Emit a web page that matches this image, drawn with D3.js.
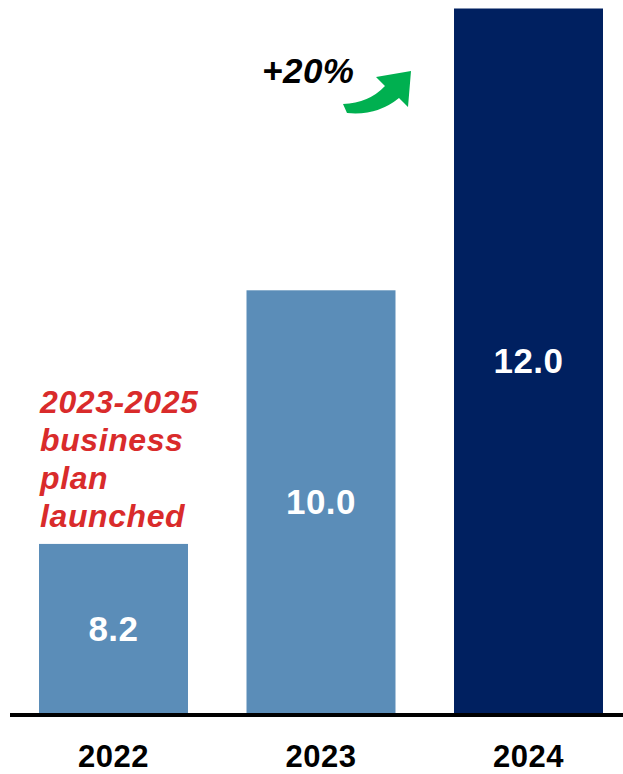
<!DOCTYPE html>
<html>
<head>
<meta charset="utf-8">
<script src="https://cdn.jsdelivr.net/npm/d3@7"></script>
<style>
  html, body { margin: 0; padding: 0; background: #fff; }
  svg { display: block; }
  text { font-family: "Liberation Sans", Arial, sans-serif; font-weight: bold; }
</style>
</head>
<body>
<svg id="chart" width="623" height="774"></svg>
<script>
// Yearly values shown as bars
const years = ["2022", "2023", "2024"];
const values = [8.2, 10.0, 12.0];
const barColors = ["#5B8DB8", "#5B8DB8", "#002060"];

// Annotations
const noteLines = ["2023-2025", "business", "plan", "launched"];
const growthLabel = "+20%";

const svg = d3.select("#chart");
const W = 623, H = 774;
const baseY = 713;

const x = d3.scaleBand()
  .domain(years)
  .range([39, 603])
  .paddingInner(0.282)
  .paddingOuter(0);

// value axis starts above zero so the bars emphasise growth
const y = d3.scaleLinear()
  .domain([7, 12])
  .range([baseY, 8.5]);

const data = years.map((yr, i) => ({ year: yr, value: values[i], color: barColors[i] }));

// bars
svg.selectAll("rect.bar")
  .data(data)
  .join("rect")
  .attr("class", "bar")
  .attr("x", d => x(d.year))
  .attr("y", d => y(d.value))
  .attr("width", x.bandwidth())
  .attr("height", d => baseY - y(d.value))
  .attr("fill", d => d.color);

// value labels centred inside each bar
svg.selectAll("text.val")
  .data(data)
  .join("text")
  .attr("class", "val")
  .attr("x", d => x(d.year) + x.bandwidth() / 2)
  .attr("y", d => (y(d.value) + baseY) / 2 + 3)
  .attr("text-anchor", "middle")
  .attr("dominant-baseline", "middle")
  .attr("fill", "#fff")
  .style("font-size", "35px")
  .style("letter-spacing", "0.5px")
  .text(d => d3.format(".1f")(d.value));

// baseline
svg.append("line")
  .attr("x1", 10).attr("x2", W)
  .attr("y1", baseY + 2).attr("y2", baseY + 2)
  .attr("stroke", "#000")
  .attr("stroke-width", 4);

// category axis labels
const xAxis = d3.axisBottom(x).tickSize(0).tickPadding(0);
const gx = svg.append("g")
  .attr("transform", `translate(0,${baseY})`)
  .call(xAxis);
gx.select(".domain").remove();
gx.selectAll("text")
  .attr("y", 54)
  .attr("dy", 0)
  .attr("fill", "#000")
  .style("font-size", "31px")
  .style("letter-spacing", "0.5px")
  .style("font-family", "'Liberation Sans', Arial, sans-serif")
  .style("font-weight", "bold");

// business plan note
svg.append("g")
  .selectAll("text")
  .data(noteLines)
  .join("text")
  .attr("x", 40)
  .attr("y", (d, i) => 413 + i * 38)
  .attr("fill", "#D92B2B")
  .style("font-size", "32px")
  .style("letter-spacing", "0.6px")
  .style("font-style", "italic")
  .text(d => d);

// growth label
svg.append("text")
  .attr("x", 262)
  .attr("y", 83)
  .attr("fill", "#000")
  .style("font-size", "35px")
  .style("letter-spacing", "0.5px")
  .style("font-style", "italic")
  .text(growthLabel);

// curved growth arrow
svg.append("path")
  .attr("d", "M343,104 Q369,103 385,86 L376,77 L411,71 L408,107 L399,98 Q377,116 347,113 Z")
  .attr("fill", "#00B050");
</script>
</body>
</html>
